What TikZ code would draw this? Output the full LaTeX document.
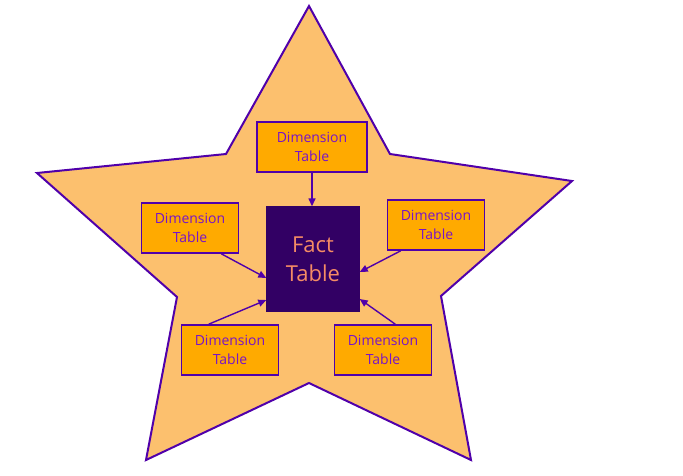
\documentclass[tikz,border=0pt]{standalone}
\usepackage{fontspec}
\setmainfont{Open Sans}
\usepackage{tikz}
\usetikzlibrary{arrows.meta}
\definecolor{starfill}{RGB}{252, 192, 110}
\definecolor{starline}{RGB}{80, 0, 170}
\definecolor{dimfill}{RGB}{255, 170, 0}
\definecolor{dimtext}{RGB}{120, 20, 200}
\definecolor{factfill}{RGB}{50, 0, 100}
\definecolor{facttext}{RGB}{245, 140, 100}

\begin{document}
\begin{tikzpicture}[
    x=1pt, y=-1pt,
    dimbox/.style={
      rectangle, draw=starline, line width=1.6pt, fill=dimfill,
      minimum width=97pt, minimum height=50pt, align=center,
      font=\fontsize{14}{19.5}\selectfont, text=dimtext, inner sep=2pt
    },
    factbox/.style={
      rectangle, fill=factfill, draw=factfill,
      minimum width=93pt, minimum height=105pt, align=center,
      font=\fontsize{22}{29}\selectfont, text=facttext
    },
    link/.style={draw=starline, line width=1.4pt, -{Triangle[length=8pt,width=7pt]}}
  ]
    \useasboundingbox (0,0) rectangle (683,475);
    % the star
    \draw[fill=starfill, draw=starline, line width=2pt, line join=miter]
      (309,6) -- (390,154) -- (572,181) -- (441,296) -- (471,460)
      -- (309,383) -- (146,460) -- (177,297) -- (37,173) -- (226,154) -- cycle;

    \node[factbox] (fact) at (313,259) {Fact\\Table};
    \node[dimbox, minimum width=110pt] (dtop) at (312,147) {Dimension\\Table};
    \node[dimbox] (dleft)  at (190,228) {Dimension\\Table};
    \node[dimbox] (dright) at (436,225) {Dimension\\Table};
    \node[dimbox] (dbl)    at (230,350) {Dimension\\Table};
    \node[dimbox] (dbr)    at (383,350) {Dimension\\Table};

    \draw[link] (dtop.south) -- (dtop.south |- fact.north);
    \draw[link] ([xshift=-18pt]dleft.south east) -- ([yshift=-19pt]fact.west);
    \draw[link] ([xshift=14pt]dright.south west) -- ([yshift=-13pt]fact.east);
    \draw[link] ([xshift=28pt]dbl.north west) -- ([yshift=-41pt]fact.west);
    \draw[link] ([xshift=-37pt]dbr.north east) -- ([yshift=-40pt]fact.east);
\end{tikzpicture}
\end{document}
